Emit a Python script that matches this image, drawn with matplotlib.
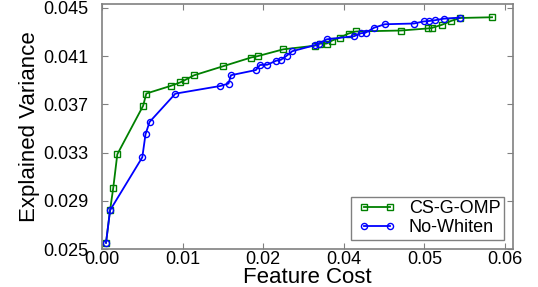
import matplotlib
matplotlib.use("Agg")
import matplotlib.pyplot as plt
from matplotlib.legend_handler import HandlerLine2D
from matplotlib.lines import Line2D

plt.rcParams['font.family'] = ['Liberation Sans', 'DejaVu Sans']

# CS-G-OMP (green squares)
cs_x = [0.0005, 0.0010, 0.0014, 0.0019, 0.0051, 0.0055, 0.0085, 0.0097, 0.0103, 0.0114,
        0.0150, 0.0185, 0.0193, 0.0225, 0.0264, 0.0270, 0.0279, 0.0285, 0.0295, 0.0306,
        0.0315, 0.0371, 0.0404, 0.0409, 0.0422, 0.0433, 0.0444, 0.0484]
cs_y = [0.02552, 0.02821, 0.03009, 0.03286, 0.03688, 0.03790, 0.03853, 0.03882, 0.03902, 0.03941,
        0.04016, 0.04089, 0.04100, 0.04157, 0.04187, 0.04204, 0.04205, 0.04228, 0.04255, 0.04288,
        0.04305, 0.04313, 0.04330, 0.04334, 0.04361, 0.04392, 0.04417, 0.04423]

# No-Whiten (blue circles)
nw_x = [0.0005, 0.0010, 0.0050, 0.0054, 0.0059, 0.0091, 0.0147, 0.0157, 0.0160, 0.0191,
        0.0196, 0.0205, 0.0216, 0.0222, 0.0229, 0.0236, 0.0264, 0.0269, 0.0279, 0.0313,
        0.0321, 0.0327, 0.0338, 0.0351, 0.0387, 0.0399, 0.0406, 0.0413, 0.0424, 0.0444]
nw_y = [0.02552, 0.02821, 0.03261, 0.03452, 0.03554, 0.03789, 0.03853, 0.03873, 0.03942, 0.03985,
        0.04027, 0.04029, 0.04062, 0.04070, 0.04103, 0.04141, 0.04191, 0.04205, 0.04240, 0.04266,
        0.04290, 0.04295, 0.04337, 0.04365, 0.04371, 0.04388, 0.04392, 0.04398, 0.04411, 0.04420]

x_tick_pos = [0.00, 0.01, 0.02, 0.03, 0.04, 0.05]
x_tick_labels = ['0.00', '0.01', '0.02', '0.04', '0.05', '0.06']
y_ticks = [0.025, 0.029, 0.033, 0.037, 0.041, 0.045]
y_tick_labels = ['0.025', '0.029', '0.033', '0.037', '0.041', '0.045']

fig = plt.figure(figsize=(5.38, 2.87), dpi=100)
ax = fig.add_axes([102/538, 38/287, 411/538, 245/287])

ax.plot(cs_x, cs_y, color='#008000', marker='s', markersize=4.0, markerfacecolor='none',
        markeredgecolor='#008000', markeredgewidth=1.0, linewidth=1.3, label='CS-G-OMP')
ax.plot(nw_x, nw_y, color='#0000ff', marker='o', markersize=4.4, markerfacecolor='none',
        markeredgecolor='#0000ff', markeredgewidth=1.0, linewidth=1.3, label='No-Whiten')

ax.set_xlim(0, 0.0510)
ax.set_ylim(0.025, 0.04533)
ax.set_xticks(x_tick_pos)
ax.set_xticklabels(x_tick_labels)
ax.set_yticks(y_ticks)
ax.set_yticklabels(y_tick_labels)

spine_c = '#808080'
for s in ax.spines.values():
    s.set_color(spine_c)
    s.set_linewidth(1.2)
ax.tick_params(axis='both', direction='in', length=4, width=0.8, color=spine_c,
               top=True, right=True, labelsize=13)
ax.tick_params(axis='y', pad=10)
ax.tick_params(axis='x', pad=1.5)

ax.set_xlabel('Feature Cost', fontsize=16, labelpad=-1)
ax.set_ylabel('Explained Variance', fontsize=16, labelpad=2)

leg = ax.legend(loc='lower right', fontsize=13, numpoints=2, handlelength=2.5,
                fancybox=False, framealpha=1, edgecolor=spine_c, borderpad=0.2,
                labelspacing=0.12, handletextpad=0.5, borderaxespad=0.5,
                handler_map={Line2D: HandlerLine2D(marker_pad=0.52)})
leg.get_frame().set_linewidth(1.0)

fig.savefig('out.png', dpi=100)
